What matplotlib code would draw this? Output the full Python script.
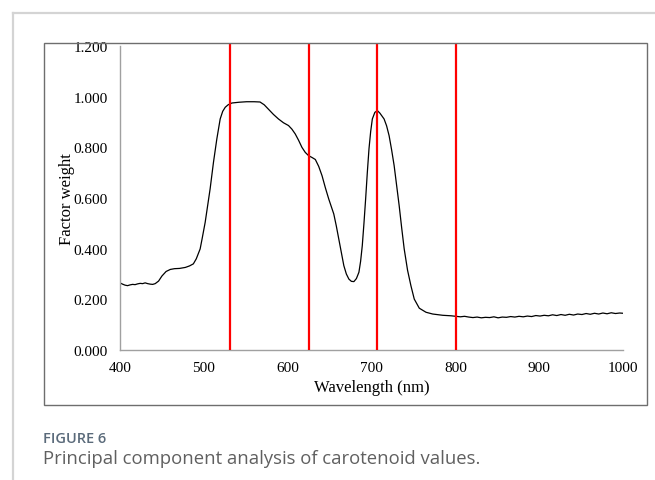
import matplotlib
matplotlib.use("Agg")
import matplotlib.pyplot as plt
from matplotlib.patches import Rectangle
from matplotlib.lines import Line2D

# ---- data ----
wavelength = [400, 403, 406, 409, 412, 415, 418, 421, 424, 427, 430, 433, 436, 439, 442,
              446, 450, 455, 460, 465, 471, 478, 483, 487.5, 491, 495.6, 498, 501.6, 504.5, 507.5,
              511.5, 515.5, 519.5, 522.5, 525.5, 529, 533.5, 542, 551, 560, 567, 572, 577, 583, 589,
              595, 601, 605, 609, 613, 617, 621, 625, 629, 633, 637, 641, 645, 649, 655,
              658, 661, 664, 667, 670, 673, 676, 679, 682, 685, 687, 689, 691, 693, 695,
              697, 699, 701, 704, 707, 710, 715, 718, 721, 724, 727, 730, 733, 736, 739,
              743, 747, 751, 757, 765, 773, 785, 795, 801, 806, 811, 816, 821,
              826, 831, 836, 841, 846, 851, 856, 861, 866, 871, 876, 881, 886, 891, 896,
              901, 906, 911, 916, 921, 926, 931, 936, 941, 946, 951, 956, 961, 966, 971,
              976, 981, 986, 991, 996, 1000]
factor_weight = [0.265, 0.260, 0.256, 0.254, 0.257, 0.259, 0.258, 0.261, 0.263, 0.262, 0.265, 0.262, 0.260, 0.259, 0.262,
                 0.272, 0.292, 0.310, 0.318, 0.321, 0.322, 0.326, 0.332, 0.340, 0.360, 0.399, 0.440, 0.504, 0.570, 0.636,
                 0.741, 0.833, 0.912, 0.942, 0.958, 0.968, 0.975, 0.978, 0.980, 0.980, 0.979, 0.968, 0.951, 0.930, 0.912,
                 0.897, 0.886, 0.872, 0.853, 0.828, 0.800, 0.780, 0.767, 0.760, 0.752, 0.725, 0.688, 0.640, 0.596, 0.537,
                 0.490, 0.438, 0.385, 0.333, 0.300, 0.280, 0.271, 0.270, 0.282, 0.307, 0.350, 0.412, 0.500, 0.596, 0.700,
                 0.794, 0.862, 0.912, 0.938, 0.945, 0.935, 0.912, 0.885, 0.846, 0.790, 0.728, 0.650, 0.570, 0.482, 0.399,
                 0.315, 0.254, 0.201, 0.165, 0.149, 0.142, 0.137, 0.135, 0.133, 0.131, 0.133, 0.130, 0.128,
                 0.130, 0.127, 0.129, 0.128, 0.131, 0.127, 0.130, 0.129, 0.132, 0.130, 0.133, 0.131, 0.134, 0.132, 0.136,
                 0.134, 0.137, 0.135, 0.139, 0.136, 0.140, 0.137, 0.141, 0.138, 0.142, 0.140, 0.144, 0.141, 0.145, 0.142,
                 0.146, 0.143, 0.147, 0.144, 0.146, 0.145]
red_lines = [531, 626, 706, 801]
x_ticks = [400, 500, 600, 700, 800, 900, 1000]
y_ticks = [0.0, 0.2, 0.4, 0.6, 0.8, 1.0, 1.2]

W, H = 655, 481
fig = plt.figure(figsize=(W / 100, H / 100), dpi=100)
fig.patch.set_facecolor("white")

# outer light frame (page border)
fig.add_artist(Line2D([13 / W, 13 / W], [0, 1 - 14 / H], transform=fig.transFigure,
                      color="#d4d4d4", lw=1.6))
fig.add_artist(Line2D([13 / W, 1], [1 - 14 / H, 1 - 14 / H], transform=fig.transFigure,
                      color="#d4d4d4", lw=1.6))
# inner chart box
fig.add_artist(Rectangle((44 / W, 1 - 406 / H), (647 - 44) / W, (406 - 44) / H,
                         transform=fig.transFigure, fill=False, ec="#6e6e6e", lw=1.0))

ax = fig.add_axes([120 / W, 1 - 351 / H, (623 - 120) / W, (351 - 47) / H])
ax.plot(wavelength, factor_weight, color="black", lw=0.9)
top_ext = 1.2 * (351 - 44) / (351 - 47)
ax.vlines(red_lines, 0, top_ext, colors="#ff0000", lw=1.6, clip_on=False, zorder=3)

ax.set_xlim(400, 1000)
ax.set_ylim(0, 1.2)
ax.set_xticks(x_ticks)
ax.set_yticks(y_ticks)
ax.set_yticklabels([f"{v:.3f}" for v in y_ticks])
serif = "Liberation Serif"
for lab in ax.get_xticklabels() + ax.get_yticklabels():
    lab.set_fontfamily(serif)
    lab.set_fontsize(11)
ax.tick_params(axis="both", length=0)
ax.tick_params(axis="y", pad=9)
ax.tick_params(axis="x", pad=8)
for s in ["top", "right"]:
    ax.spines[s].set_visible(False)
for s in ["left", "bottom"]:
    ax.spines[s].set_color("#a0a0a0")
    ax.spines[s].set_linewidth(1.0)

fig.text(372 / W, 1 - 388 / H, "Wavelength (nm)", ha="center", va="center",
         fontfamily=serif, fontsize=12)
fig.text(67 / W, 1 - 199 / H, "Factor weight", ha="center", va="center", rotation=90,
         fontfamily=serif, fontsize=12)

fig.text(43 / W, 1 - 443 / H, "FIGURE 6", ha="left", va="baseline",
         fontfamily="Open Sans", fontweight="semibold", fontsize=10.5, color="#5a6a7a")
fig.text(43 / W, 1 - 464 / H, "Principal component analysis of carotenoid values.",
         ha="left", va="baseline", fontfamily="Open Sans", fontsize=13.3, color="#606060")

fig.savefig("out.png", dpi=100)
